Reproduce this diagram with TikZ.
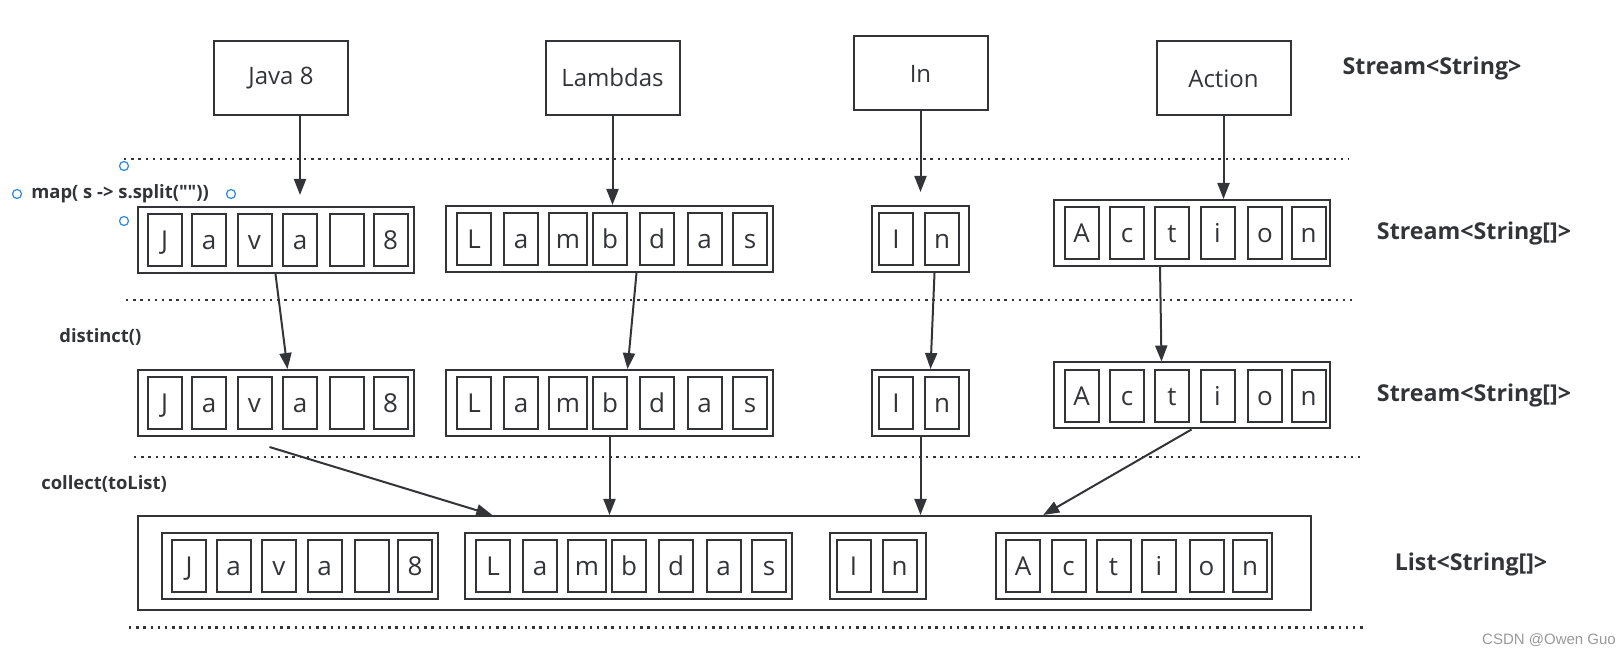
\documentclass[tikz,border=0pt]{standalone}
\usepackage{fontspec}
\setmainfont{Open Sans}[Ligatures=TeXOff]
\newfontfamily\wmfont{Liberation Sans}
\usetikzlibrary{arrows.meta}
\definecolor{ink}{RGB}{50,52,56}
\definecolor{handle}{RGB}{45,135,230}

\begin{document}
\begin{tikzpicture}[x=0.5pt, y=-0.5pt, color=ink,
	word/.style={draw, line width=1pt, minimum width=67pt, minimum height=37pt, font=\fontsize{12}{14}\selectfont},
	arraybox/.style={draw, line width=1pt, minimum width=138pt, minimum height=33pt, inner sep=0pt},
	cell/.style={draw, line width=1pt, minimum width=17pt, minimum height=26pt, inner sep=0pt, text height=9.3pt, text depth=0pt, font=\fontsize{13}{15}\selectfont},
	kind/.style={font=\bfseries\fontsize{11.6}{13}\selectfont},
	op/.style={anchor=west, inner sep=0pt, font=\bfseries\fontsize{9.2}{11}\selectfont},
	flow/.style={-{Triangle[length=8pt,width=6pt]}, line width=1pt},
	divider/.style={line width=1.2pt, dash pattern=on 1.2pt off 2.4pt},
	handlept/.style={circle, draw=handle, fill=white, line width=0.6pt, minimum size=4.5pt, inner sep=0pt}]

	\useasboundingbox (0,0) rectangle (1621,656);

	% dotted separators
	\draw[divider] (124,159) -- (1349,159);
	\draw[divider] (126,300) -- (1352,300);
	\draw[divider] (134,457) -- (1363,457);
	\draw[divider] (129,627.5) -- (1365,627.5);

	% Stream<String>
	\draw (281,78) node[word] (java) {Java 8};
	\draw (612.5,78) node[word] (lambdas) {Lambdas};
	\draw (920.5,73.5) node[word] (inword) {In};
	\draw (1223.5,78.5) node[word] (action) {Action};

	% Stream<String[]> after map
	\draw (275.5,240) node[arraybox] (sjava) {};
	\draw (164.5,240) node[cell] (sj1) {J} (209,240) node[cell] (sj2) {a} (254.5,240) node[cell] (sj3) {v}
		(300,240) node[cell] (sj4) {a} (347,240) node[cell] (sj5) {} (390.5,240) node[cell] (sj6) {8};
	\draw (609.5,239) node[arraybox, minimum width=163.5pt] (slam) {};
	\draw (474,239) node[cell] (sl1) {L} (521,239) node[cell] (sl2) {a} (568,239) node[cell, minimum width=19pt] (sl3) {m}
		(610,239) node[cell] (sl4) {b} (657,239) node[cell] (sl5) {d} (704.5,239) node[cell] (sl6) {a} (750,239) node[cell] (sl7) {s};
	\draw (920.5,239) node[arraybox, minimum width=48.5pt] (sin) {};
	\draw (896,239) node[cell] (si1) {I} (942,239) node[cell] (si2) {n};
	\draw (1192,233) node[arraybox] (sact) {};
	\draw (1081.5,233) node[cell] (sa1) {A} (1127,233) node[cell] (sa2) {c} (1172,233) node[cell] (sa3) {t}
		(1217.5,233) node[cell] (sa4) {i} (1265,233) node[cell] (sa5) {o} (1308.5,233) node[cell] (sa6) {n};

	% Stream<String[]> after distinct
	\draw (275.5,403) node[arraybox] (djava) {};
	\draw (164.5,403) node[cell] (dj1) {J} (209,403) node[cell] (dj2) {a} (254.5,403) node[cell] (dj3) {v}
		(300,403) node[cell] (dj4) {a} (347,403) node[cell] (dj5) {} (390.5,403) node[cell] (dj6) {8};
	\draw (609.5,403) node[arraybox, minimum width=163.5pt] (dlam) {};
	\draw (474,403) node[cell] (dl1) {L} (521,403) node[cell] (dl2) {a} (568,403) node[cell, minimum width=19pt] (dl3) {m}
		(610,403) node[cell] (dl4) {b} (657,403) node[cell] (dl5) {d} (704.5,403) node[cell] (dl6) {a} (750,403) node[cell] (dl7) {s};
	\draw (920.5,403) node[arraybox, minimum width=48.5pt] (din) {};
	\draw (896,403) node[cell] (di1) {I} (942,403) node[cell] (di2) {n};
	\draw (1191.5,395.5) node[arraybox] (dact) {};
	\draw (1081.5,396) node[cell] (da1) {A} (1127,396) node[cell] (da2) {c} (1172,396) node[cell] (da3) {t}
		(1217.5,396) node[cell] (da4) {i} (1265,396) node[cell] (da5) {o} (1308.5,396) node[cell] (da6) {n};

	% List<String[]>
	\draw (724.25,563) node[arraybox, minimum width=586.75pt, minimum height=47pt] (list) {};
	\draw (300,566) node[arraybox] (ljava) {};
	\draw (189,566) node[cell] (lj1) {J} (233.5,566) node[cell] (lj2) {a} (279,566) node[cell] (lj3) {v}
		(324.5,566) node[cell] (lj4) {a} (371.5,566) node[cell] (lj5) {} (415,566) node[cell] (lj6) {8};
	\draw (628.5,566) node[arraybox, minimum width=163.5pt] (llam) {};
	\draw (493,566) node[cell] (ll1) {L} (540,566) node[cell] (ll2) {a} (587,566) node[cell, minimum width=19pt] (ll3) {m}
		(629,566) node[cell] (ll4) {b} (676,566) node[cell] (ll5) {d} (723.5,566) node[cell] (ll6) {a} (769,566) node[cell] (ll7) {s};
	\draw (878,566) node[arraybox, minimum width=48pt] (lin) {};
	\draw (853.5,566) node[cell] (li1) {I} (899.5,566) node[cell] (li2) {n};
	\draw (1133.5,566) node[arraybox] (lact) {};
	\draw (1023,566) node[cell] (la1) {A} (1068.5,566) node[cell] (la2) {c} (1113.5,566) node[cell] (la3) {t}
		(1159,566) node[cell] (la4) {i} (1206.5,566) node[cell] (la5) {o} (1250,566) node[cell] (la6) {n};

	% map
	\draw[flow, shorten >=5.5pt] (java.south -| sj4) -- (sjava.north -| sj4);
	\draw[flow] (lambdas.south) -- (lambdas.south |- slam.north);
	\draw[flow, shorten >=6.5pt] (inword.south) -- (sin.north);
	\draw[flow] (action.south) -- (action.south |- sact.north);

	% distinct
	\draw[flow] (sjava.south) -- ([xshift=6pt]djava.north);
	\draw[flow] ([xshift=13.5pt]slam.south) -- ([xshift=9pt]dlam.north);
	\draw[flow] ([xshift=7pt]sin.south) -- ([xshift=5pt]din.north);
	\draw[flow] ([xshift=-16pt]sact.south) -- ([xshift=-15pt]dact.north);

	% collect
	\draw[flow] ([shift={(-3pt,-5pt)}]djava.south) -- ([xshift=-116pt]list.north);
	\draw[flow] (dlam.south) -- (dlam.south |- list.north);
	\draw[flow] (din.south) -- (din.south |- list.north);
	\draw[flow] (dact.south) -- ([xshift=159.5pt]list.north);

	% labels
	\node[kind] (tstr) at (1432,68) {Stream<String>};
	\node[kind] (tsplit) at (1474,233) {Stream<String[]>};
	\node[kind] (tdist) at (1474,395) {Stream<String[]>};
	\node[kind] (tlist) at (1471,564) {List<String[]>};
	\node[op] (mapop) at (31,194) {map( s -> s.split(""))};
	\node[op] (distop) at (59,337) {distinct()};
	\node[op] (collop) at (41,484) {collect(toList)};

	% selection handles
	\node[handlept] (h1) at (17,194) {};
	\node[handlept] (h2) at (231,194) {};
	\node[handlept] (h3) at (124,166) {};
	\node[handlept] (h4) at (124,221) {};

	\node[font=\wmfont\fontsize{7.5}{9}\selectfont, text=gray!80] (mark) at (1549,640) {CSDN @Owen Guo};
\end{tikzpicture}
\end{document}
